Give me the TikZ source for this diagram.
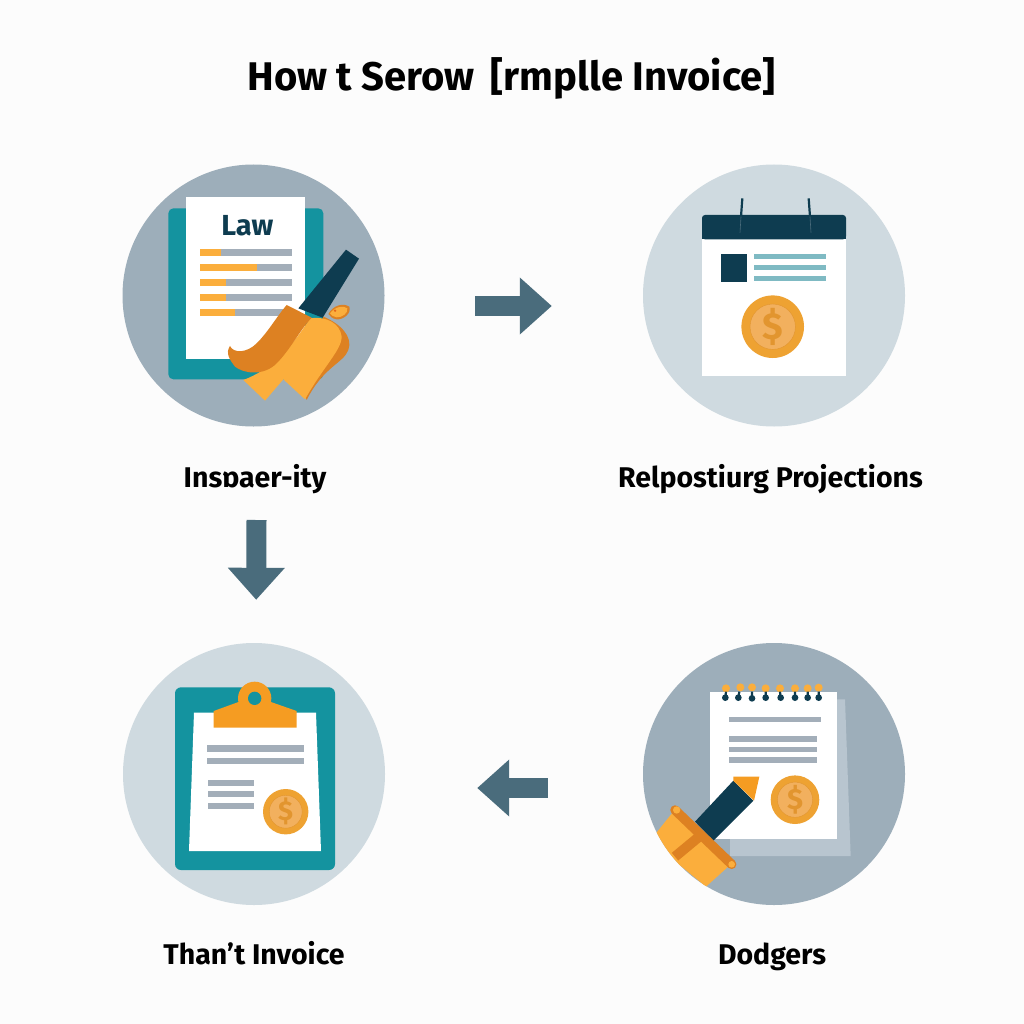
\documentclass[tikz,border=0pt]{standalone}
\usepackage{fontspec}
\usepackage{tikz}
\usetikzlibrary{arrows.meta}
\setmainfont{Fira Sans}

\definecolor{pagebg}{HTML}{FCFCFC}
\definecolor{discdark}{HTML}{9DAEBA}
\definecolor{disclight}{HTML}{CFDAE0}
\definecolor{teal}{HTML}{14939F}
\definecolor{navy}{HTML}{0E3C50}
\definecolor{amber}{HTML}{FBAE3C}
\definecolor{rust}{HTML}{DD8122}
\definecolor{clipamber}{HTML}{F59C22}
\definecolor{slatebar}{HTML}{A3AEB9}
\definecolor{tealbar}{HTML}{7FBAC3}
\definecolor{sheetshade}{HTML}{B8C5CF}
\definecolor{flowcol}{HTML}{4A6C7C}
\definecolor{coinedge}{HTML}{EEA232}
\definecolor{coinface}{HTML}{F2B05E}
\definecolor{coinmark}{HTML}{E2952F}

\tikzset{
    disc/.style={circle,inner sep=0pt,minimum size=262pt},
    heading/.style={anchor=base,text=black,font=\fontsize{40}{44}\selectfont\bfseries},
    caption/.style={anchor=base,text=black,font=\fontsize{28.5}{32}\selectfont\bfseries},
    flowarrow/.style={draw=flowcol,line width=20pt,-{Triangle[length=32pt,width=55pt]}},
    coindisc/.style={circle,inner sep=0pt,fill=coinface,draw=coinmark,line width=0.4pt,text=coinmark}
}

% coin: name, x, y, radius
\newcommand{\coin}[4]{
    \pgfmathsetmacro{\coinsize}{1.2*#4}
    \fill[coinedge] (#2,#3) circle (#4);
    \node[coindisc,minimum size=1.45*#4 pt,font=\fontsize{\coinsize}{\coinsize}\selectfont\bfseries] (#1) at (#2,#3) {\$};
}

\begin{document}
\begin{tikzpicture}[x=1pt,y=-1pt]
    \fill[pagebg] (0,0) rectangle (1024,1024);
    \useasboundingbox (0,0) rectangle (1024,1024);

    \node[heading] (title) at (511.5,91) {How t Serow\, [rmplle Invoice]};

    \node[disc,fill=discdark] (law) at (253.5,295.5) {};
    \node[disc,fill=disclight] (relp) at (774,295.5) {};
    \node[disc,fill=disclight] (than) at (254,774) {};
    \node[disc,fill=discdark] (dodg) at (774,774) {};

    \node[caption] (lawcap) at (255,487) {Insɒaer-ity};
    \node[caption] (relpcap) at (770.5,487) {Relpostiurg Projections};
    \node[caption] (thancap) at (254,964) {Than’t Invoice};
    \node[caption] (dodgcap) at (772,964) {Dodgers};

    \draw[flowarrow,shorten <=90.5pt,shorten >=91pt] ([yshift=-10.5pt]law.east) -- ([yshift=-10.5pt]relp.west);
    \draw[flowarrow,shorten >=43pt] ([xshift=1.5pt,yshift=-33pt]lawcap.base) -- ([xshift=2pt]than.north);
    \draw[flowarrow,shorten <=95pt,shorten >=92pt] ([yshift=-14pt]dodg.west) -- ([yshift=-14pt]than.east);

    % document with brush
    \begin{scope}[shift={(110,150)},scale=1/3]
        \fill[teal,rounded corners=5pt] (175,175) rectangle (640,688);
        \fill[white] (229,140) rectangle (586,628);
        \node[text=navy,font=\fontsize{29}{32}\selectfont\bfseries] (lawword) at (412,228) {Law};
        \fill[slatebar] (270,297) rectangle (546,317);
        \fill[slatebar] (270,343) rectangle (546,363);
        \fill[slatebar] (270,388) rectangle (546,408);
        \fill[slatebar] (270,433) rectangle (546,453);
        \fill[slatebar] (270,478) rectangle (546,498);
        \fill[amber] (270,297) rectangle (333,317);
        \fill[amber] (270,343) rectangle (440,363);
        \fill[amber] (270,388) rectangle (348,408);
        \fill[amber] (270,433) rectangle (348,453);
        \fill[amber] (270,478) rectangle (375,498);
        \fill[navy] (708,299) -- (747,326) -- (638,503) -- (565,475) -- cycle;
        \fill[rust] (655,492) .. controls (670,465) and (700,458) .. (718,470) .. controls (725,490) and (700,510) .. (680,508) .. controls (668,506) and (660,500) .. cycle;
        \fill[amber] (660,490) .. controls (675,470) and (700,465) .. (712,475) .. controls (715,490) and (695,503) .. (680,502) .. controls (670,500) and (665,497) .. cycle;
        \fill[rust!80!red] (675,482) circle (4);
        \fill[rust] (640,500) .. controls (690,520) and (730,560) .. (715,600) .. controls (700,640) and (640,650) .. (590,750) -- (570,700) -- cycle;
        \fill[amber] (600,505) .. controls (650,498) and (690,520) .. (695,560) .. controls (695,600) and (640,650) .. (585,748) -- (520,688) -- (465,752) -- (400,690) .. controls (480,660) and (540,600) .. cycle;
        \fill[rust] (360,588) .. controls (370,610) and (410,610) .. (440,580) .. controls (475,545) and (500,500) .. (530,465) -- (605,503) .. controls (570,540) and (540,600) .. (500,640) .. controls (460,680) and (400,670) .. (375,650) .. controls (360,630) and (345,610) .. cycle;
    \end{scope}

    % calendar page
    \begin{scope}[shift={(630,150)},scale=1/3]
        \fill[white] (216,260) rectangle (648,678);
        \fill[navy,rounded corners=3pt] (216,268) -- (216,195) -- (648,195) -- (648,268) -- cycle;
        \fill[navy] (216,230) rectangle (648,268);
        \draw[navy,line width=2.2pt] (337,145) -- (333,200);
        \draw[navy,line width=2.2pt] (536,145) -- (540,200);
        \draw[flowcol,line width=0.6pt] (333,200) -- (330,248);
        \draw[flowcol,line width=0.6pt] (540,200) -- (543,248);
        \fill[navy] (274,311) rectangle (351,396);
        \fill[tealbar] (373,313) rectangle (589,328);
        \fill[tealbar] (373,346) rectangle (589,361);
        \fill[tealbar] (373,379) rectangle (589,394);
    \end{scope}
    \coin{relpcoin}{772.7}{326.7}{31.3}

    % clipboard
    \begin{scope}[shift={(110,630)},scale=1/3]
        \fill[teal,rounded corners=6pt] (195,172) rectangle (675,720);
        \fill[white] (252,248) -- (618,248) -- (633,663) -- (237,663) -- cycle;
        \fill[clipamber] (311,293) -- (560,293) -- (560,243) -- (480,215) -- (388,215) -- (311,243) -- cycle;
        \fill[clipamber] (434,205) circle (50);
        \fill[teal] (434,205) circle (20);
        \fill[slatebar] (290,345) rectangle (582,365);
        \fill[slatebar] (290,383) rectangle (582,403);
        \fill[slatebar] (295,450) rectangle (433,468);
        \fill[slatebar] (295,484) rectangle (433,502);
        \fill[slatebar] (295,519) rectangle (433,537);
    \end{scope}
    \coin{thancoin}{285.7}{811.7}{22.7}

    % notepad with pencil
    \begin{scope}[shift={(630,630)},scale=1/3]
        \fill[sheetshade] (300,208) -- (645,208) -- (662,678) -- (300,678) -- cycle;
        \fill[white] (240,185) rectangle (621,627);
        \fill[amber] (288,175) circle (12) (331,172) circle (12) (366,172) circle (12) (407,175) circle (12) (450,175) circle (12) (495,175) circle (12) (533,175) circle (12) (566,173) circle (12);
        \draw[navy,line width=2.2pt] (288,185) -- (286,203) (328,185) -- (325,203) (366,185) -- (366,205) (407,185) -- (407,203) (450,185) -- (452,203) (495,185) -- (495,203) (533,185) -- (533,203) (566,185) -- (566,203);
        \fill[navy] (286,203) circle (10) (325,203) circle (10) (366,205) circle (10) (407,203) circle (10) (452,203) circle (10) (495,203) circle (10) (533,203) circle (10) (566,203) circle (10);
        \fill[slatebar] (296,262) rectangle (572,277);
        \fill[slatebar] (296,319) rectangle (562,336);
        \fill[slatebar] (296,350) rectangle (562,367);
        \fill[slatebar] (296,381) rectangle (562,398);
        \fill[navy] (310,452) -- (370,512) -- (250,632) -- (195,575) -- cycle;
        \fill[clipamber] (310,452) -- (310,440) -- (388,440) -- (372,512) -- cycle;
        \begin{scope}
            \clip (433,432) circle (394);
            \fill[amber] (130,545) -- (300,705) -- (228,770) -- (60,632) -- cycle;
            \draw[rust,line width=10pt] (135,680) -- (205,622);
            \draw[rust,line width=9.5pt,line cap=round] (135,540) -- (305,703);
            \fill[amber] (140,540) circle (11);
            \fill[amber] (305,703) circle (10);
        \end{scope}
    \end{scope}
    \coin{dodgcoin}{795}{799.7}{24.3}
\end{tikzpicture}
\end{document}
